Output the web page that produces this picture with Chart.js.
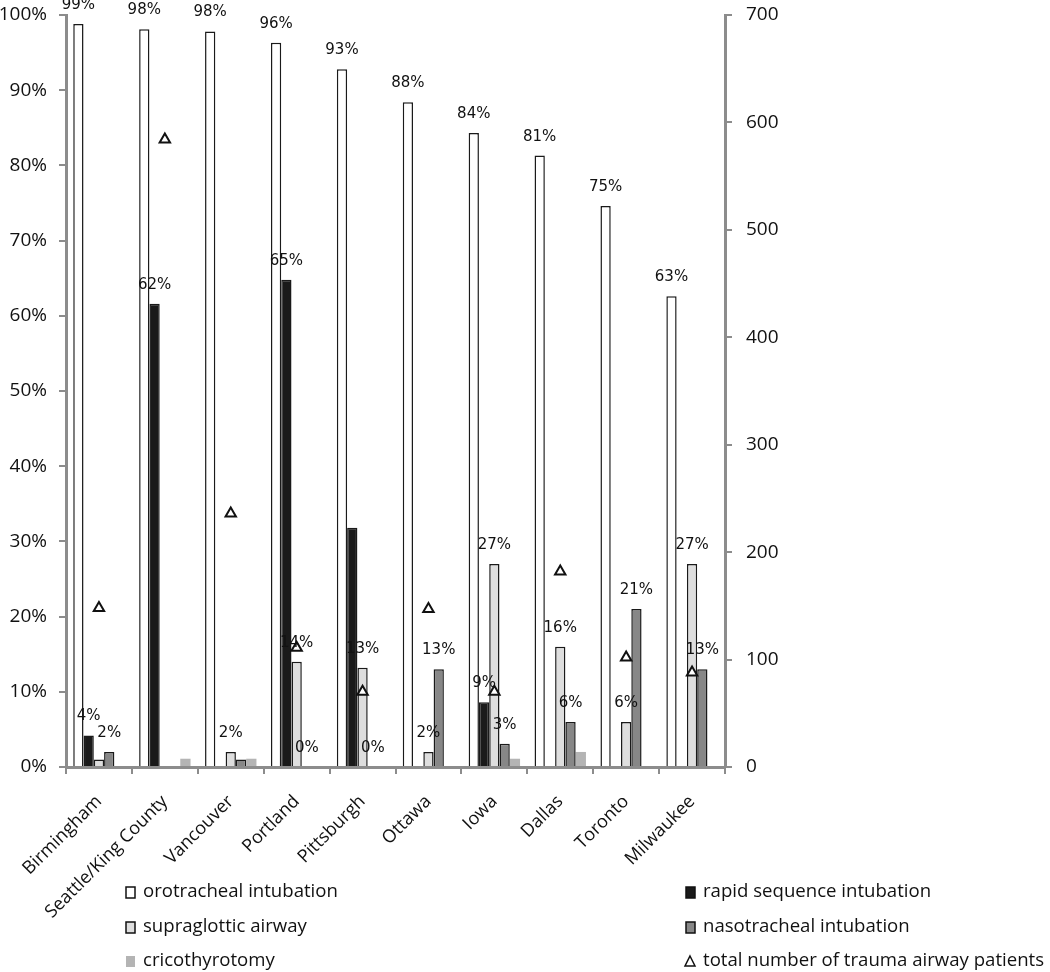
<!DOCTYPE html>
<html>
<head>
<meta charset="utf-8">
<script src="https://cdn.jsdelivr.net/npm/chart.js@4"></script>
<style>
  html, body { margin: 0; padding: 0; background: #fff; }
  #wrap { width: 1050px; height: 972px; }
</style>
</head>
<body>
<div id="wrap"><canvas id="airwayChart"></canvas></div>
<script>
const cities = ['Birmingham', 'Seattle/King County', 'Vancouver', 'Portland', 'Pittsburgh',
  'Ottawa', 'Iowa', 'Dallas', 'Toronto', 'Milwaukee']

// percent of patients per airway method
const orotracheal = [98.8, 98.1, 97.8, 96.3, 92.8, 88.4, 84.3, 81.3, 74.6, 62.6]
const rapidSequence = [4.2, 61.6, 0, 64.8, 31.8, 0, 8.6, 0, 0, 0]
const supraglottic = [1, 0, 2, 14, 13.2, 2, 27, 16, 6, 27]
const nasotracheal = [2, 0, 1, 0, 0, 13, 3.1, 6, 21, 13]
const cricothyrotomy = [0, 1.1, 1.1, 0, 0, 0, 1.1, 2, 0, 0]

// total number of trauma airway patients (right axis)
const totalPatients = [148, 584, 236, 111, 70, 147, 70, 182, 102, 88]

// which bars carry a value label in the original figure
const oroLabelled = [true, true, true, true, true, true, true, true, true, true]
const rapidLabelled = [true, true, false, true, false, false, true, false, false, false]
const supraLabelled = [false, false, true, true, true, true, true, true, true, true]
const nasoLabelled = [true, false, false, true, true, true, true, true, true, true]
const cricoLabelled = [false, false, false, false, false, false, false, false, false, false]

const leftTicks = { min: 0, max: 100, step: 10 }
const rightTicks = { min: 0, max: 700, step: 100 }

const AXIS_GREY = '#8c8c8c'
const TICK_FONT = { family: 'Open Sans', size: 19 }

const barLabels = {
  id: 'barLabels',
  afterDatasetsDraw(chart) {
    const ctx = chart.ctx
    ctx.save()
    ctx.font = '15px "DejaVu Sans"'
    ctx.fillStyle = '#111'
    ctx.textAlign = 'center'
    ctx.textBaseline = 'middle'
    chart.data.datasets.forEach((ds, i) => {
      if (!ds.labelled) return
      const meta = chart.getDatasetMeta(i)
      meta.data.forEach((bar, j) => {
        if (!ds.labelled[j]) return
        ctx.fillText(Math.round(ds.data[j]) + '%', bar.x, bar.y - 19)
      })
    })
    ctx.restore()
  }
}

const bottomLegend = {
  id: 'bottomLegend',
  afterDraw(chart) {
    const ctx = chart.ctx
    const cols = [126, 686]
    const rows = [892, 927, 961]
    ctx.save()
    ctx.font = '18.6px "Open Sans"'
    ctx.textBaseline = 'middle'
    chart.data.datasets.forEach((ds, i) => {
      const x = cols[i % 2]
      const y = rows[Math.floor(i / 2)]
      if (ds.type === 'line') {
        ctx.beginPath()
        ctx.moveTo(x + 4, y - 5)
        ctx.lineTo(x + 9, y + 5)
        ctx.lineTo(x - 1, y + 5)
        ctx.closePath()
        ctx.lineWidth = 1.5
        ctx.strokeStyle = '#111'
        ctx.stroke()
      } else {
        ctx.fillStyle = ds.backgroundColor
        ctx.fillRect(x, y - 5, 9, 11)
        if (ds.borderWidth) {
          ctx.lineWidth = 1.5
          ctx.strokeStyle = '#111'
          ctx.strokeRect(x, y - 5, 9, 11)
        }
      }
      ctx.fillStyle = '#111'
      ctx.fillText(ds.label, x + 17, y)
    })
    ctx.restore()
  }
}

function barSet(label, data, fill, labelled, border) {
  return {
    type: 'bar',
    label: label,
    data: data,
    backgroundColor: fill,
    borderColor: '#1a1a1a',
    borderWidth: border ? 1.5 : 0,
    yAxisID: 'y',
    order: 1,
    labelled: labelled
  }
}

// fix the width of a vertical axis and drop the extra room Chart.js keeps for its end labels
function fixWidth(width) {
  return scale => {
    scale.width = width
    scale.paddingTop = 0
    scale.paddingBottom = 0
  }
}

const ctx = document.getElementById('airwayChart').getContext('2d')

new Chart(ctx, {
  data: {
    labels: cities,
    datasets: [
      barSet('orotracheal intubation', orotracheal, '#ffffff', oroLabelled, true),
      barSet('rapid sequence intubation', rapidSequence, '#1a1a1a', rapidLabelled, true),
      barSet('supraglottic airway', supraglottic, '#dedede', supraLabelled, true),
      barSet('nasotracheal intubation', nasotracheal, '#878787', nasoLabelled, true),
      barSet('cricothyrotomy', cricothyrotomy, '#b4b4b4', cricoLabelled, false),
      {
        type: 'line',
        label: 'total number of trauma airway patients',
        data: totalPatients,
        yAxisID: 'y1',
        showLine: false,
        pointStyle: 'triangle',
        pointRadius: 6,
        pointBackgroundColor: '#ffffff',
        pointBorderColor: '#111',
        pointBorderWidth: 2,
        order: 0
      }
    ]
  },
  options: {
    responsive: true,
    maintainAspectRatio: false,
    animation: false,
    categoryPercentage: 0.78,
    barPercentage: 1.0,
    layout: { padding: { top: 15, bottom: 0, left: 0, right: 0 } },
    plugins: {
      legend: { display: false },
      tooltip: { enabled: false }
    },
    scales: {
      x: {
        offset: true,
        grid: {
          offset: true,
          drawOnChartArea: false,
          color: AXIS_GREY,
          lineWidth: 2,
          tickLength: 7
        },
        border: { color: AXIS_GREY, width: 3 },
        ticks: {
          font: { family: 'Open Sans', size: 18 },
          color: '#111',
          minRotation: 45,
          maxRotation: 45,
          autoSkip: false,
          padding: 17
        },
        afterFit(scale) { scale.height = 205 }
      },
      y: {
        position: 'left',
        min: leftTicks.min,
        max: leftTicks.max,
        grid: {
          drawOnChartArea: false,
          color: AXIS_GREY,
          lineWidth: 2,
          tickLength: 7
        },
        border: { color: AXIS_GREY, width: 3 },
        ticks: {
          stepSize: leftTicks.step,
          font: TICK_FONT,
          color: '#111',
          padding: 12,
          callback: v => v + '%'
        },
        afterFit: fixWidth(66)
      },
      y1: {
        position: 'right',
        min: rightTicks.min,
        max: rightTicks.max,
        grid: {
          drawOnChartArea: false,
          color: AXIS_GREY,
          lineWidth: 2,
          tickLength: 7
        },
        border: { color: AXIS_GREY, width: 3 },
        ticks: {
          stepSize: rightTicks.step,
          font: TICK_FONT,
          color: '#111',
          padding: 14
        },
        afterFit: fixWidth(325)
      }
    }
  },
  plugins: [barLabels, bottomLegend]
})
</script>
</body>
</html>
